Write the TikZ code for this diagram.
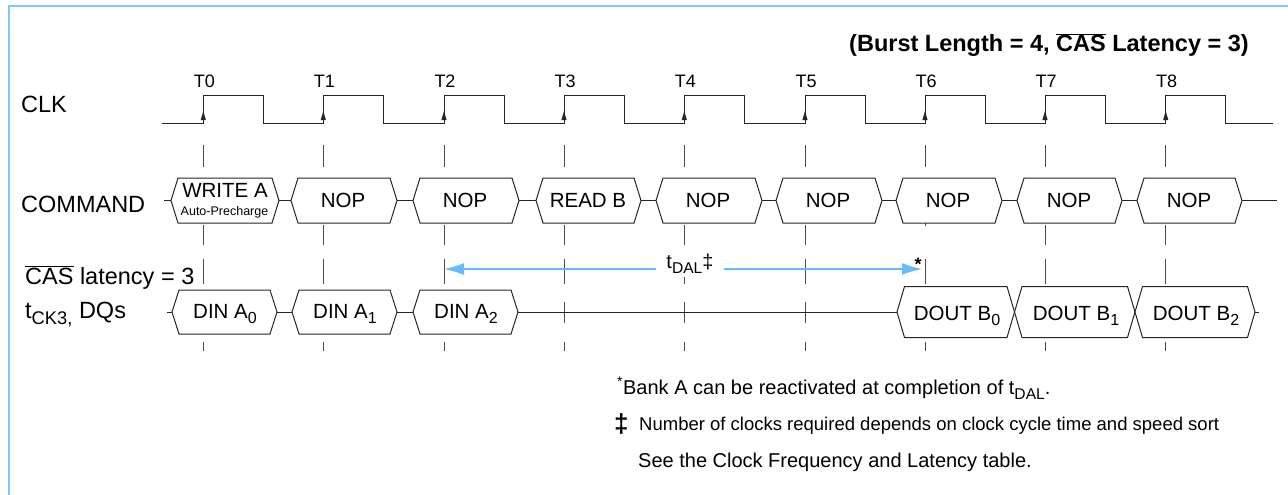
\documentclass[tikz,border=0pt]{standalone}
\usepackage{fontspec}
\setmainfont{Liberation Sans}
\usepackage{graphicx}
\usetikzlibrary{arrows.meta}
\definecolor{dalblue}{HTML}{66BBFF}
\definecolor{frameblue}{HTML}{80C6FF}
\newcommand\sbx[1]{\raisebox{-0.28em}{\scalebox{0.78}{#1}}}
\newcommand\ovl[1]{$\overline{\mbox{#1}}$}
\newcommand\busbox[6]{%
  \coordinate (#1L) at (#2,#4);
  \coordinate (#1R) at (#3,#4);
  \draw[sig] (#1L) -- ({#2+#6},{#4-#5}) -- ({#3-#6},{#4-#5}) -- (#1R) -- ({#3-#6},{#4+#5}) -- ({#2+#6},{#4+#5}) -- cycle;
}
\begin{document}
\begin{tikzpicture}[x=1pt,y=-1pt,
  wave/.style={line width=1pt,draw=black!85},
  tick/.style={line width=1pt,draw=black!70},
  sig/.style={line width=1pt,draw=black!85,fill=white},
  lbl/.style={font=\fontsize{23.5}{28}\selectfont,inner sep=0pt},
  tlbl/.style={font=\fontsize{18}{22}\selectfont,inner sep=0pt,anchor=base},
  boxt/.style={font=\fontsize{20.5}{24}\selectfont,inner sep=0pt,anchor=base},
  fnt/.style={font=\fontsize{20}{24}\selectfont,inner sep=0pt,anchor=base west},
  dal/.style={draw=dalblue,line width=1.4pt},
  tipfill/.style={fill=black!85}
]
\useasboundingbox (0,0) rectangle (1288,495);
% frame (top and left edges only)
\draw[draw=frameblue,line width=2pt] (9,495) -- (9,6) -- (1288,6);

% title
\node[font=\bfseries\fontsize{23.5}{28}\selectfont,inner sep=0pt,anchor=base east] (title) at (1249,52) {(Burst Length = 4, \ovl{CAS} Latency = 3)};

% row labels
\node[lbl,anchor=base west] (clk) at (21,112) {CLK};
\node[lbl,anchor=base west] (cmd) at (21,212) {COMMAND};
\node[lbl,anchor=base west] (cas) at (25,284) {\ovl{CAS} latency = 3};
\node[lbl,anchor=base west] (dqs) at (25,318) {t\sbx{CK3,} DQs};

% clock waveform
\draw[wave] (162,123)
  \foreach \x in {203.3,323.3,444,564,684.3,805,925,1045,1165.7}{
    -- (\x,123) -- (\x,95) -- ({\x+60},95) -- ({\x+60},123)}
  -- (1273,123);
\foreach \x [count=\i from 0] in {203.3,323.3,444,564,684.3,805,925,1045,1165.7}{
  \fill[tipfill] (\x,111) -- ({\x-2.6},120) -- ({\x+2.6},120) -- cycle;
  \node[tlbl] (t\i) at ({\x+1},88) {T\i};
  \draw[tick] (\x,145) -- (\x,167) (\x,259) -- (\x,284) (\x,302) -- (\x,323) (\x,342) -- (\x,351);
}
\foreach \x in {203.3,323.3,444,564,684.3,805,1045,1165.7}{
  \draw[tick] (\x,225) -- (\x,245);
}
\draw[tick] (925,223) -- (925,226);

% command bus
\coordinate (cst) at (164,200.5);
\coordinate (cen) at (1277,200.5);
\busbox{c0}{171}{279}{200.5}{22.5}{7}
\busbox{c1}{291}{397}{200.5}{22.5}{7}
\busbox{c2}{413}{519}{200.5}{22.5}{7}
\busbox{c3}{536}{641}{200.5}{22.5}{7}
\busbox{c4}{656}{762}{200.5}{22.5}{7}
\busbox{c5}{776}{882}{200.5}{22.5}{7}
\busbox{c6}{896}{1002}{200.5}{22.5}{7}
\busbox{c7}{1017}{1122}{200.5}{22.5}{7}
\busbox{c8}{1137}{1242}{200.5}{22.5}{7}
\draw[wave] (cst) -- (c0L) (c0R) -- (c1L) (c1R) -- (c2L) (c2R) -- (c3L) (c3R) -- (c4L)
  (c4R) -- (c5L) (c5R) -- (c6L) (c6R) -- (c7L) (c7R) -- (c8L) (c8R) -- (cen);
\node[boxt] (w0) at (225,197) {WRITE A};
\node[font=\fontsize{12.5}{14}\selectfont,inner sep=0pt,anchor=base] (ap) at (224.5,215) {Auto-Precharge};
\node[boxt] (n1) at (343,207) {NOP};
\node[boxt] (n2) at (465,207) {NOP};
\node[boxt] (r3) at (588,207) {READ B};
\node[boxt] (n4) at (708,207) {NOP};
\node[boxt] (n5) at (828,207) {NOP};
\node[boxt] (n6) at (948,207) {NOP};
\node[boxt] (n7) at (1069,207) {NOP};
\node[boxt] (n8) at (1189,207) {NOP};

% data bus
\coordinate (dst) at (167,312);
\coordinate (den) at (1259,312);
\busbox{d0}{172}{277}{312}{22}{7}
\busbox{d1}{292}{397}{312}{22}{7}
\busbox{d2}{413}{518}{312}{22}{7}
\busbox{b0}{897}{1014.5}{312}{25.5}{7.5}
\busbox{b1}{1014.5}{1135}{312}{25.5}{7.5}
\busbox{b2}{1135}{1255}{312}{25.5}{7.5}
\draw[wave] (dst) -- (d0L) (d0R) -- (d1L) (d1R) -- (d2L) (d2R) -- (b0L) (b2R) -- (den);
\node[boxt] (di0) at (225,318) {DIN A\sbx{0}};
\node[boxt] (di1) at (345,318) {DIN A\sbx{1}};
\node[boxt] (di2) at (466,318) {DIN A\sbx{2}};
\node[boxt] (do0) at (957,320) {DOUT B\sbx{0}};
\node[boxt] (do1) at (1076,320) {DOUT B\sbx{1}};
\node[boxt] (do2) at (1196,320) {DOUT B\sbx{2}};

% tDAL arrow
\coordinate (dalL) at (444,269);
\coordinate (dalR) at (922,269);
\draw[dal,{Latex[length=20pt,width=12pt]}-{Latex[length=20pt,width=12pt]}] (dalL) -- (dalR);
\node[fill=white,inner xsep=10pt,inner ysep=3pt,font=\fontsize{20}{24}\selectfont,anchor=base] (tdal) at (690,268) {t\sbx{DAL}‡};
\node[font=\bfseries\fontsize{18}{20}\selectfont,inner sep=0pt] (star) at (918,264) {*};

% footnotes
\node[fnt] (fn1) at (617,394) {\textsuperscript{*}Bank A can be reactivated at completion of t\sbx{DAL}.};
\node[font=\bfseries\fontsize{26}{28}\selectfont,inner sep=0pt,anchor=base west] (dd) at (614,432) {‡};
\node[font=\fontsize{18.5}{22}\selectfont,inner sep=0pt,anchor=base west] (fn2) at (639,430) {Number of clocks required depends on clock cycle time and speed sort};
\node[fnt] (fn3) at (638,467) {See the Clock Frequency and Latency table.};
\end{tikzpicture}
\end{document}
